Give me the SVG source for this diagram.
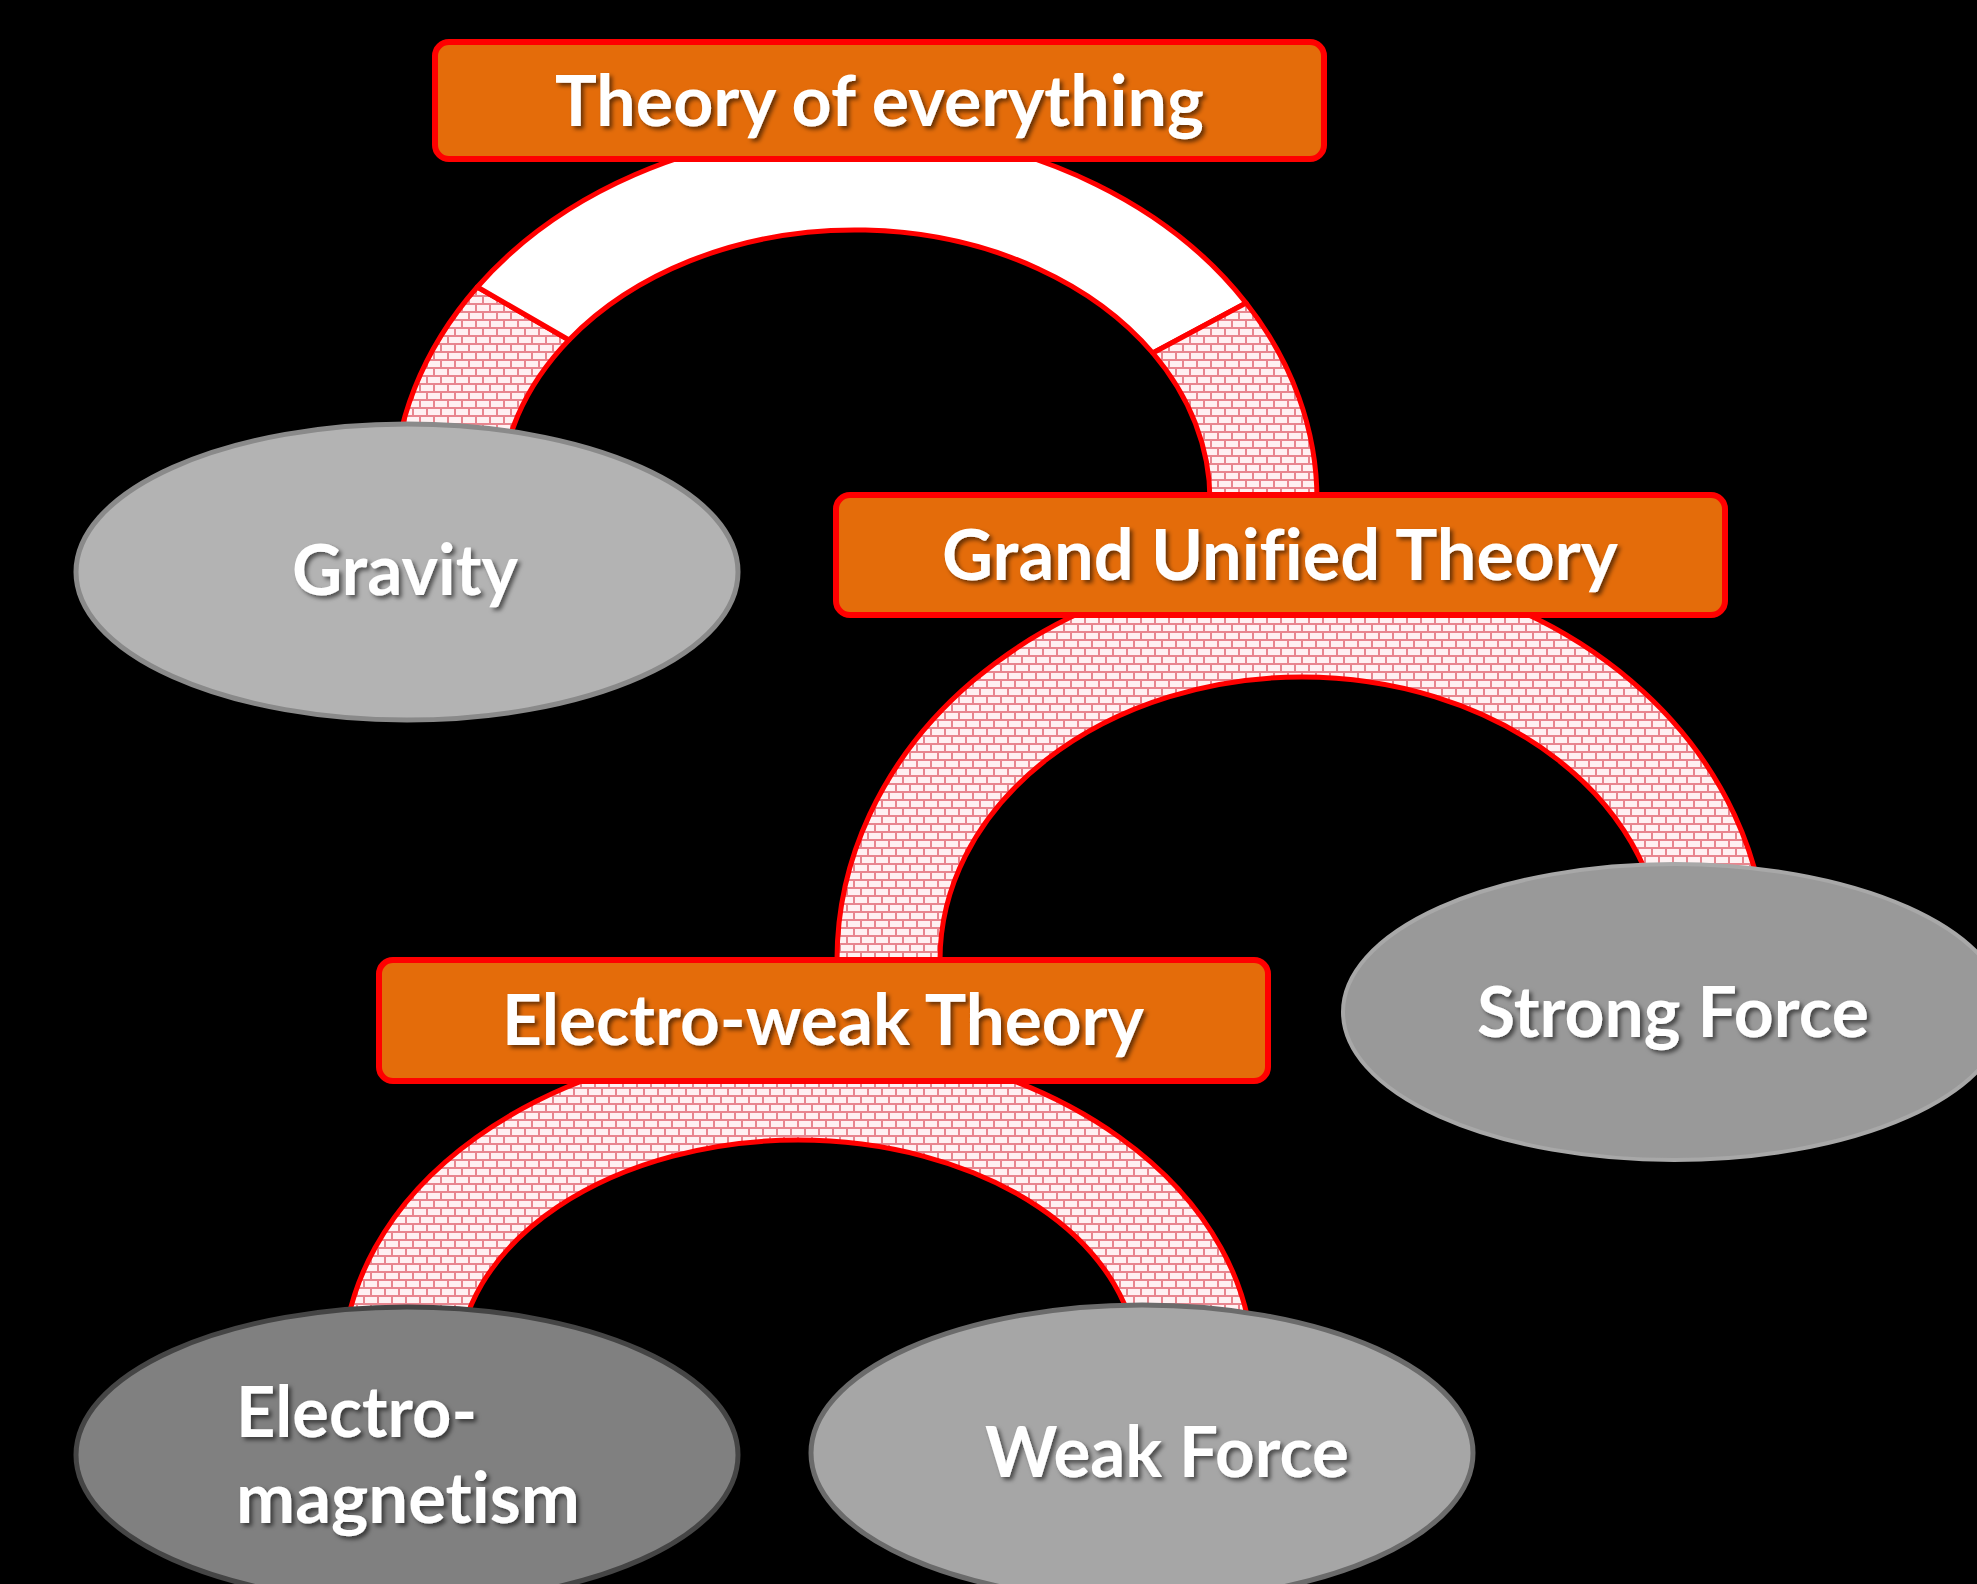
<svg xmlns="http://www.w3.org/2000/svg" width="1977" height="1584" viewBox="0 0 1977 1584">
<defs>
  <pattern id="brick" width="14" height="16" patternUnits="userSpaceOnUse">
    <rect width="14" height="16" fill="#E8868F"/>
    <rect x="1" y="1" width="12" height="6" fill="#FFF1F2"/>
    <rect x="-6" y="9" width="12" height="6" fill="#FFF1F2"/>
    <rect x="8" y="9" width="12" height="6" fill="#FFF1F2"/>
  </pattern>
  <filter id="shadow" x="-10%" y="-30%" width="120%" height="160%">
    <feDropShadow dx="3" dy="3" stdDeviation="2" flood-color="#000" flood-opacity="0.55"/>
  </filter>
</defs>
<style>
  .arch { stroke: #FF0000; stroke-width: 5; stroke-linejoin: round; }
  .brick { fill: url(#brick); }
  .white { fill: #FFFFFF; }
  .box { fill: #E46C0A; stroke: #FF0000; stroke-width: 6; }
  .lbl { font-family: Lato, "Open Sans", "Liberation Sans", sans-serif; font-weight: 700; font-size: 70px; fill: #FFFFFF; filter: url(#shadow); font-variant-ligatures: none; font-feature-settings: "liga" 0, "clig" 0; }
</style>
<rect width="1977" height="1584" fill="#000000"/>

<g id="connectors">
  <g id="arch-toe">
    <path class="arch brick" d="M 393,500 A 462 370 0 0 1 477.3,287 L 569,340 A 355 270 0 0 0 500,500 Z"/>
    <path class="arch white" d="M 477.3,287 A 462 370 0 0 1 1246.1,303 L 1152.8,353 A 355 270 0 0 0 569,340 Z"/>
    <path class="arch brick" d="M 1246.1,303 A 462 370 0 0 1 1317,500 L 1210,500 A 355 270 0 0 0 1152.8,353 Z"/>
  </g>
  <path id="arch-gut" class="arch brick" d="M 837,960 A 465 395 0 0 1 1767,960 L 1664,960 A 362 283 0 0 0 940,960 Z"/>
  <path id="arch-ew" class="arch brick" d="M 343,1368 A 455 326 0 0 1 1253,1368 L 1138,1368 A 340 228 0 0 0 458,1368 Z"/>
</g>

<g id="gravity">
  <ellipse cx="407" cy="572" rx="331" ry="148" fill="#B3B3B3" stroke="#8A8A8A" stroke-width="5"/>
  <text class="lbl" x="292" y="595" textLength="226" lengthAdjust="spacingAndGlyphs">Gravity</text>
</g>
<g id="strong-force">
  <ellipse cx="1674" cy="1012" rx="331" ry="148" fill="#999999" stroke="#A8A8A8" stroke-width="4"/>
  <text class="lbl" x="1477" y="1037" textLength="392" lengthAdjust="spacingAndGlyphs">Strong Force</text>
</g>
<g id="electromagnetism">
  <ellipse cx="407" cy="1455" rx="331" ry="148" fill="#808080" stroke="#454545" stroke-width="5"/>
  <text class="lbl" x="236" y="1437" textLength="241" lengthAdjust="spacingAndGlyphs">Electro-</text>
  <text class="lbl" x="236" y="1523" textLength="344" lengthAdjust="spacingAndGlyphs">magnetism</text>
</g>
<g id="weak-force">
  <ellipse cx="1142" cy="1453" rx="331" ry="148" fill="#A6A6A6" stroke="#6B6B6B" stroke-width="5"/>
  <text class="lbl" x="985" y="1477" textLength="364" lengthAdjust="spacingAndGlyphs">Weak Force</text>
</g>

<g id="theory-of-everything">
  <rect class="box" x="435" y="42" width="889" height="117" rx="14"/>
  <text class="lbl" x="555" y="126" textLength="649" lengthAdjust="spacingAndGlyphs">Theory of everything</text>
</g>
<g id="grand-unified-theory">
  <rect class="box" x="836" y="495" width="889" height="120" rx="14"/>
  <text class="lbl" x="942" y="580" textLength="676" lengthAdjust="spacingAndGlyphs">Grand Unified Theory</text>
</g>
<g id="electro-weak-theory">
  <rect class="box" x="379" y="960" width="889" height="121" rx="14"/>
  <text class="lbl" x="502" y="1045" textLength="642" lengthAdjust="spacingAndGlyphs">Electro-weak Theory</text>
</g>
</svg>
